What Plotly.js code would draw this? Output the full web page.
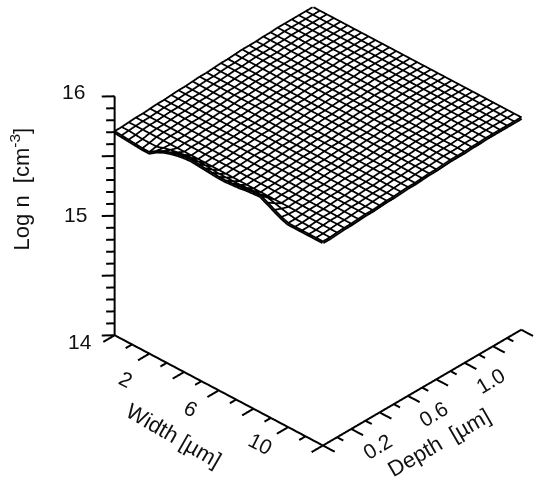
<!DOCTYPE html>
<html><head><meta charset="utf-8">
<script src="https://cdn.plot.ly/plotly-3.0.1.min.js"></script>
<style>html,body{margin:0;padding:0;background:#fff}#c{width:534px;height:484px}</style>
</head><body><div id="c"></div>
<script>
const widthGrid=[0,0.4,0.8,1.2,1.6,2,2.4,2.8,3.2,3.6,4,4.4,4.8,5.2,5.6,6,6.4,6.8,7.2,7.6,8,8.4,8.8,9.2,9.6,10,10.4,10.8,11.2,11.6,12];
const depthGrid=[0,0.05,0.1,0.15,0.2,0.25,0.3,0.35,0.4,0.45,0.5,0.55,0.6,0.65,0.7,0.75,0.8,0.85,0.9,0.95,1,1.05,1.1,1.15,1.2,1.25,1.3,1.35,1.4];
const depthLevel=[15.70,15.70,15.705,15.71,15.71,15.715,15.72,15.72,15.725,15.73,15.73,15.735,15.74,15.74,15.745,15.75,15.75,15.755,15.76,15.76,15.76,15.765,15.765,15.77,15.77,15.77,15.77,15.77,15.77];
const edgeRow0=[0,-0.005,-0.01,-0.015,-0.02,-0.02,0.02,0.05,0.07,0.085,0.095,0.10,0.095,0.09,0.085,0.08,0.08,0.085,0.09,0.10,0.105,0.11,0.08,0.05,0.02,0,0,0,0,0,0];
const edgeRow1=[0,0,-0.005,-0.01,-0.01,-0.01,0.01,0.025,0.035,0.045,0.05,0.05,0.05,0.045,0.04,0.04,0.04,0.04,0.045,0.05,0.05,0.055,0.04,0.025,0.01,0,0,0,0,0,0];
const edgeRows=[edgeRow0,edgeRow1];
const widthTicks=[0,1,2,3,4,5,6,7,8,9,10,11,12];
const depthTicks=[0,0.1,0.2,0.3,0.4,0.5,0.6,0.7,0.8,0.9,1,1.1,1.2,1.3,1.4];
const logTicks=[14,14.1,14.2,14.3,14.4,14.5,14.6,14.7,14.8,14.9,15,15.1,15.2,15.3,15.4,15.5,15.6,15.7,15.8,15.9,16];
const widthMajor=[0,2,4,6,8,10,12];
const depthMajor=[0,0.2,0.4,0.6,0.8,1,1.2,1.4];
const logMajor=[14,14.5,15,15.5,16];
const widthLabels=[2,6,10];
const depthLabels=["0.2","0.6","1.0"];
const logLabels=["14","15","16"];

const zGrid=depthLevel.map((b,j)=>widthGrid.map((w,i)=>b+(j<edgeRows.length?edgeRows[j][i]:0)));

const wx=[],wy=[],wz=[];
depthGrid.forEach((d,j)=>{widthGrid.forEach((w,i)=>{wx.push(w);wy.push(d);wz.push(zGrid[j][i]);});wx.push(null);wy.push(null);wz.push(null);});
widthGrid.forEach((w,i)=>{depthGrid.forEach((d,j)=>{wx.push(w);wy.push(d);wz.push(zGrid[j][i]);});wx.push(null);wy.push(null);wz.push(null);});

const ax=[],ay=[],az=[];
function seg(x0,y0,z0,x1,y1,z1){ax.push(x0,x1,null);ay.push(y0,y1,null);az.push(z0,z1,null);}
seg(0,0,14,12,0,14);seg(12,0,14,12,1.4,14);seg(0,0,14,0,0,16);
widthTicks.forEach(t=>seg(t,0,14,t,widthMajor.includes(t)?-0.08:-0.045,14));
depthTicks.forEach(t=>seg(12,t,14,depthMajor.includes(t)?12.68:12.36,t,14));
logTicks.forEach(t=>{const m=logMajor.includes(t);seg(0,0,t,m?-0.38:-0.25,m?-0.045:-0.03,t);});

const font={family:'"Liberation Sans",Arial,sans-serif',size:20,color:'#111'};
const ann=[];
function label(x,y,z,text,angle,dx,dy,size){ann.push({x,y,z,text:String(text),textangle:angle,xshift:dx,yshift:-dy,showarrow:false,font:Object.assign({},font,size?{size}:{}),xanchor:'center',yanchor:'middle'});}
const wShift=[[-23,26],[-28,18],[-28,16]];
widthLabels.forEach((w,i)=>label(w,0,14,w,27,wShift[i][0],wShift[i][1],21));
depthLabels.forEach((d,i)=>label(12,Number(d),14,d,-31,26,18,21));
const zShift=[[-35,6],[-39,-1],[-41,-5]];
logLabels.forEach((l,i)=>label(0,0,Number(l),l,0,zShift[i][0],zShift[i][1],21));
label(6,0,14,'Width [µm]',30,-45,45,22);
label(12,0.7,14,'Depth\u00a0\u00a0[µm]',-30,17,55,22);
label(0,0,15,'Log n\u00a0\u00a0[cm<sup>-3</sup>]',-90,-95,-27,22);

const hidden={visible:false};
Plotly.newPlot('c',[
 {type:'surface',x:widthGrid,y:depthGrid,z:zGrid,showscale:false,hoverinfo:'skip',
  colorscale:[[0,'#ffffff'],[1,'#ffffff']],
  lighting:{ambient:1,diffuse:0,specular:0,roughness:1,fresnel:0}},
 {type:'scatter3d',mode:'lines',x:wx,y:wy,z:wz,line:{color:'#000',width:7},hoverinfo:'skip',connectgaps:false},
 {type:'scatter3d',mode:'lines',x:ax,y:ay,z:az,line:{color:'#000',width:4},hoverinfo:'skip',connectgaps:false}
],{
 width:534,height:484,margin:{l:0,r:0,t:0,b:0},paper_bgcolor:'#fff',showlegend:false,
 scene:{domain:{x:[0,1],y:[0,1]},
  xaxis:Object.assign({range:[-1.2,13.2]},hidden),
  yaxis:Object.assign({range:[-0.14,1.54]},hidden),
  zaxis:Object.assign({range:[13.9,16.1]},hidden),
  aspectmode:'manual',aspectratio:{x:1.426,y:1.426,z:1.307},
  camera:{eye:{x:0.893,y:-1.243,z:0.87},up:{x:0,y:0,z:1},center:{x:-0.107,y:-0.193,z:-0.1},projection:{type:'orthographic'}},
  annotations:ann}
},{displayModeBar:false});
</script></body></html>
